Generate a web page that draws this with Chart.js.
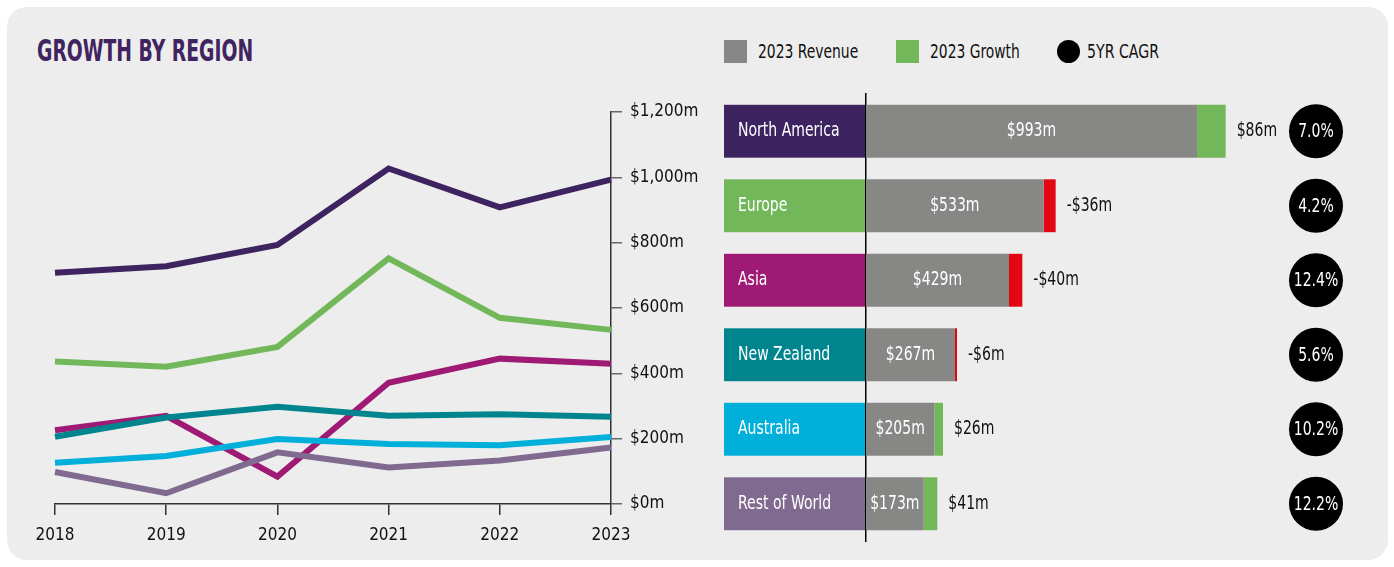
<!DOCTYPE html>
<html>
<head>
<meta charset="utf-8">
<script src="https://cdn.jsdelivr.net/npm/chart.js@4"></script>
<style>
  html, body { margin:0; padding:0; background:#fff; }
  body { width:1394px; height:567px; position:relative; overflow:hidden;
         font-family:'Liberation Sans Narrow','DejaVu Sans Condensed','Roboto',sans-serif; }
  .panel { position:absolute; left:7px; top:7px; width:1381px; height:553px;
           background:#ededed; border-radius:20px; }
  .title { position:absolute; left:37px; top:32px; font-size:31px; font-weight:700;
           color:#40245f; transform-origin:left top; white-space:nowrap; }
  .legend { position:absolute; top:40px; font-size:19px; color:#111; white-space:nowrap; }
  .legend span.sw { position:absolute; top:0; width:23px; height:23px; }
  .legend span.tx { position:absolute; top:0; line-height:23px; transform-origin:left center; }
  canvas { position:absolute; top:0; }
</style>
</head>
<body>
<div class="panel"></div>
<div class="title" id="title">GROWTH BY REGION</div>
<div class="legend" style="left:724px">
  <span class="sw" style="left:0;background:#878785"></span><span class="tx" data-w="100" style="left:34px">2023 Revenue</span>
  <span class="sw" style="left:172px;background:#72b85a"></span><span class="tx" data-w="90" style="left:206px">2023 Growth</span>
  <span class="sw" style="left:333px;border-radius:50%;background:#000"></span><span class="tx" data-w="72" style="left:363px">5YR CAGR</span>
</div>
<canvas id="lines" width="720" height="567" style="left:0;width:720px;height:567px"></canvas>
<canvas id="bars" width="674" height="567" style="left:720px;width:674px;height:567px"></canvas>
<script>
// ── data ──────────────────────────────────────────────────────────────
const YEARS         = ['2018', '2019', '2020', '2021', '2022', '2023'];
const REGIONS       = ['North America', 'Europe', 'Asia', 'New Zealand', 'Australia', 'Rest of World'];
const NORTH_AMERICA = [708, 728, 793, 1027, 908, 993];
const EUROPE        = [436, 420, 481, 752, 570, 533];
const ASIA          = [226, 270, 84, 371, 445, 429];
const NEW_ZEALAND   = [206, 265, 298, 270, 275, 267];
const AUSTRALIA     = [126, 147, 199, 184, 180, 205];
const REST_OF_WORLD = [98, 33, 158, 112, 133, 173];
const REVENUE_2023  = [993, 533, 429, 267, 205, 173];
const GROWTH_2023   = [86, -36, -40, -6, 26, 41];
const CAGR_5YR      = [7.0, 4.2, 12.4, 5.6, 10.2, 12.2];
const Y_MAX = 1200, Y_STEP = 200;

// ── styles ────────────────────────────────────────────────────────────
const C = {
  na:'#3d2460', eu:'#72b85a', asia:'#9e1a74', nz:'#00858f', au:'#00b0da', row:'#806a8f',
  gray:'#878785', green:'#72b85a', red:'#e30613', axis:'#333333', tick:'#666666', text:'#111111',
};
const REGION_COLORS = [C.na, C.eu, C.asia, C.nz, C.au, C.row];
const FONT = "'Liberation Sans Narrow','DejaVu Sans Condensed','Roboto',sans-serif";
const SQUEEZE = 0.78;   // the original face is narrower than what we have
Chart.defaults.font.family = FONT;
Chart.defaults.color = C.text;

const fmtM = v => (v < 0 ? '-$' : '$') + Math.abs(v).toLocaleString('en-US') + 'm';

// squeeze html text to the widths of the original
const t = document.getElementById('title');
t.style.transform = 'scaleX(' + (216 / t.offsetWidth) + ')';
document.querySelectorAll('.legend .tx').forEach(el => {
  el.style.transform = 'scaleX(' + (el.dataset.w / el.offsetWidth) + ')';
});

function squeezedText(ctx, txt, x, y, align) {
  ctx.save();
  ctx.translate(x, y);
  ctx.scale(SQUEEZE, 1);
  ctx.textAlign = align;
  ctx.fillText(txt, 0, 0);
  ctx.restore();
}

// ── LINE CHART ───────────────────────────────────────────────────────
const lineSeries = [NORTH_AMERICA, EUROPE, ASIA, NEW_ZEALAND, AUSTRALIA, REST_OF_WORLD];
new Chart(document.getElementById('lines'), {
  type: 'line',
  data: {
    labels: YEARS,
    datasets: lineSeries.map((d, i) => ({
      label: REGIONS[i], data: d, borderColor: REGION_COLORS[i], borderWidth: 6,
      pointRadius: 0, tension: 0, fill: false, borderCapStyle: 'butt',
      order: REGIONS[i] === 'Asia' ? 10 : 0,
    })),
  },
  options: {
    responsive: false, animation: false, events: [],
    layout: { padding: { left: 55, top: 112, right: 0, bottom: 13 } },
    plugins: { legend: { display: false }, tooltip: { enabled: false } },
    scales: {
      x: {
        offset: false,
        grid: { drawOnChartArea: false, drawTicks: true, tickLength: 11, color: C.axis, lineWidth: 1.5 },
        border: { display: true, color: C.axis, width: 1.5 },
        ticks: { font: { size: 17 }, color: C.text, padding: 10, maxRotation: 0 },
        afterFit: s => { s.height = 50; },
      },
      y: {
        position: 'right', min: 0, max: Y_MAX,
        grid: { drawOnChartArea: false, drawTicks: true, tickLength: 11, color: C.tick, lineWidth: 1.5 },
        border: { display: true, color: C.axis, width: 1.5 },
        ticks: { stepSize: Y_STEP, font: { size: 17 }, color: C.text, padding: 8, callback: v => fmtM(v) },
        afterFit: s => { s.width = 109; },
      },
    },
  },
});

// ── BAR CHART ────────────────────────────────────────────────────────
const barDecor = {
  id: 'barDecor',
  beforeDraw(chart) {
    const { ctx, chartArea } = chart;
    const yS = chart.scales.y;
    const bars = chart.getDatasetMeta(0).data;
    ctx.save();
    ctx.font = `20px ${FONT}`;
    ctx.textBaseline = 'middle';
    bars.forEach((b, i) => {
      ctx.fillStyle = REGION_COLORS[i];
      ctx.fillRect(yS.left, b.y - b.height / 2, chartArea.left - yS.left, b.height);
      ctx.fillStyle = '#ffffff';
      squeezedText(ctx, REGIONS[i], yS.left + 14, b.y, 'left');
    });
    ctx.restore();
  },
  afterDatasetsDraw(chart) {
    const { ctx, chartArea } = chart;
    const rev = chart.getDatasetMeta(0).data;
    const gr  = chart.getDatasetMeta(1).data;
    ctx.save();
    ctx.font = `20px ${FONT}`;
    ctx.textBaseline = 'middle';
    rev.forEach((b, i) => {
      // revenue inside the grey bar
      ctx.fillStyle = '#ffffff';
      squeezedText(ctx, fmtM(REVENUE_2023[i]), (b.base + b.x) / 2, b.y, 'center');
      // growth right of the stack
      ctx.fillStyle = C.text;
      squeezedText(ctx, fmtM(GROWTH_2023[i]), gr[i].x + 11, b.y, 'left');
      // CAGR bubble
      ctx.fillStyle = '#000000';
      ctx.beginPath();
      ctx.arc(chartArea.right, b.y, 27, 0, Math.PI * 2);
      ctx.fill();
      ctx.fillStyle = '#ffffff';
      squeezedText(ctx, CAGR_5YR[i].toFixed(1) + '%', chartArea.right, b.y + 1, 'center');
    });
    ctx.restore();
  },
};

new Chart(document.getElementById('bars'), {
  type: 'bar',
  data: {
    labels: REGIONS,
    datasets: [
      { label: '2023 Revenue', data: REVENUE_2023, backgroundColor: C.gray, borderWidth: 0,
        barPercentage: 0.71, categoryPercentage: 1 },
      { label: '2023 Growth', data: GROWTH_2023.map(Math.abs),
        backgroundColor: GROWTH_2023.map(v => v < 0 ? C.red : C.green), borderWidth: 0,
        barPercentage: 0.71, categoryPercentage: 1 },
    ],
  },
  options: {
    indexAxis: 'y', responsive: false, animation: false, events: [],
    layout: { padding: { left: 4, right: 78, top: 94, bottom: 26 } },
    plugins: { legend: { display: false }, tooltip: { enabled: false } },
    scales: {
      x: { stacked: true, min: 0, max: 1350, display: false },
      y: {
        stacked: true,
        grid: { display: false },
        border: { display: true, color: '#000000', width: 1.5 },
        ticks: { display: false },
        afterFit: s => { s.width = 142; },
      },
    },
  },
  plugins: [barDecor],
});
</script>
</body>
</html>
